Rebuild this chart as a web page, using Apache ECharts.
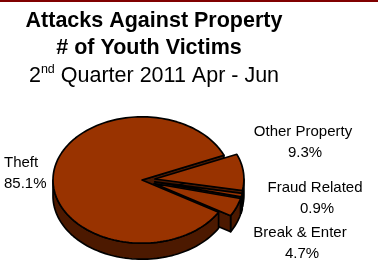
<!DOCTYPE html>
<html><head><meta charset="utf-8">
<script src="https://cdn.jsdelivr.net/npm/echarts@6/dist/echarts.min.js"></script>
<style>html,body{margin:0;padding:0;background:#fff}#c{width:378px;height:267px}</style>
</head><body><div id="c"></div>
<script>
// ---- data ----
const categories = ['Other Property', 'Fraud Related', 'Break & Enter', 'Theft'];
const values = [9.3, 0.9, 4.7, 85.1];
const titleLines = ['Attacks Against Property', '# of Youth Victims'];
const subtitleParts = ['2', 'nd', ' Quarter 2011 Apr - Jun'];

// ---- layout / style ----
const CX = 142, CY = 180, R = 89, K = 0.71, DEPTH = 16, START = -23, EXPLODE = 13;
const TOP = '#993300', SIDE = '#4c1900', EDGE = '#000';
const TOTAL = values.reduce((a, b) => a + b, 0);
const cum = values.map((v, i) => values.slice(0, i).reduce((a, b) => a + b, 0));
const rad = d => d * Math.PI / 180;

function geom(i, v) {
  const a1 = START + cum[i] / TOTAL * 360;
  const a2 = a1 + v / TOTAL * 360;
  const mid = (a1 + a2) / 2;
  const e = categories[i] === 'Theft' ? 0 : EXPLODE;
  const ox = e * Math.cos(rad(mid)), oy = e * Math.sin(rad(mid));
  const P = (th, r, dz) => [CX + ox + r * Math.cos(rad(th)), CY + K * (oy + r * Math.sin(rad(th))) + dz];
  const arc = (lo, hi, dz) => {
    const n = Math.max(2, Math.ceil((hi - lo) / 2));
    const pts = [];
    for (let k = 0; k <= n; k++) pts.push(P(lo + (hi - lo) * k / n, R, dz));
    return pts;
  };
  return { a1, a2, P, arc };
}
const st = fill => ({ fill, stroke: EDGE, lineWidth: 1.7, lineJoin: 'round' });

function renderSides(params, api) {
  const i = params.dataIndex, v = api.value(0);
  const g = geom(i, v);
  const children = [];
  [-360, 0, 360].forEach(s => {
    const lo = Math.max(g.a1, s), hi = Math.min(g.a2, 180 + s);
    if (hi > lo) {
      const pts = g.arc(lo, hi, 0).concat(g.arc(lo, hi, DEPTH).reverse());
      children.push({ type: 'polygon', shape: { points: pts }, style: st(SIDE) });
    }
  });
  const wall = th => ({ type: 'polygon', shape: { points: [g.P(th, 0, 0), g.P(th, R, 0), g.P(th, R, DEPTH), g.P(th, 0, DEPTH)] }, style: st(SIDE) });
  if (Math.cos(rad(g.a1)) < 0) children.push(wall(g.a1));
  if (Math.cos(rad(g.a2)) > 0) children.push(wall(g.a2));
  return { type: 'group', children };
}
function renderTops(params, api) {
  const i = params.dataIndex, v = api.value(0);
  const g = geom(i, v);
  const pts = [g.P(0, 0, 0)].concat(g.arc(g.a1, g.a2, 0));
  return { type: 'polygon', shape: { points: pts }, style: st(TOP) };
}

const seriesData = values.map((v, i) => ({ name: categories[i], value: [v] }));
const fmt = v => v.toFixed(1) + '%';
const FONT = 'Liberation Sans, Arial, sans-serif';
const LBL = { fontFamily: FONT, fontSize: 15, fill: '#000' };
function label(text, x, baseline, align) {
  return { type: 'text', x, y: baseline - 5, style: Object.assign({ text, align: align || 'center', verticalAlign: 'middle' }, LBL) };
}
// label anchors [x, baseline of first line, align]
const labelPos = {
  'Theft': [4, 168, 'left'],
  'Other Property': [303, 137],
  'Fraud Related': [315, 193],
  'Break & Enter': [300, 238]
};
const labelEls = [];
categories.forEach((c, i) => {
  const p = labelPos[c];
  labelEls.push(label(c, p[0], p[1], p[2]));
  labelEls.push(label(fmt(values[i]), p[0] + (p[2] ? 0 : 2), p[1] + 21, p[2]));
});

const chart = echarts.init(document.getElementById('c'), null, { renderer: 'canvas' });
chart.setOption({
  animation: false,
  backgroundColor: '#fff',
  graphic: [
    { type: 'rect', shape: { x: 0, y: 0, width: 378, height: 2 }, style: { fill: '#800000' } },
    { type: 'text', x: 154, y: 21, style: { text: titleLines[0], align: 'center', verticalAlign: 'middle', fontFamily: FONT, fontWeight: 'bold', fontSize: 21.5, fill: '#000' } },
    { type: 'text', x: 149, y: 48.5, style: { text: titleLines[1], align: 'center', verticalAlign: 'middle', fontFamily: FONT, fontWeight: 'bold', fontSize: 21.5, fill: '#000' } },
    { type: 'text', x: 154, y: 75, style: {
        text: '{a|' + subtitleParts[0] + '}{s|' + subtitleParts[1] + '}{a|' + subtitleParts[2] + '}',
        align: 'center', verticalAlign: 'middle',
        rich: {
          a: { fontFamily: FONT, fontSize: 21.5, lineHeight: 24, verticalAlign: 'bottom', fill: '#000' },
          s: { fontFamily: FONT, fontSize: 12.5, lineHeight: 12, verticalAlign: 'top', fill: '#000' }
        } } }
  ].concat(labelEls),
  series: [
    { type: 'custom', coordinateSystem: 'none', silent: true, z: 1, data: seriesData, renderItem: renderSides },
    { type: 'custom', coordinateSystem: 'none', silent: true, z: 2, data: seriesData, renderItem: renderTops }
  ]
});
</script></body></html>
